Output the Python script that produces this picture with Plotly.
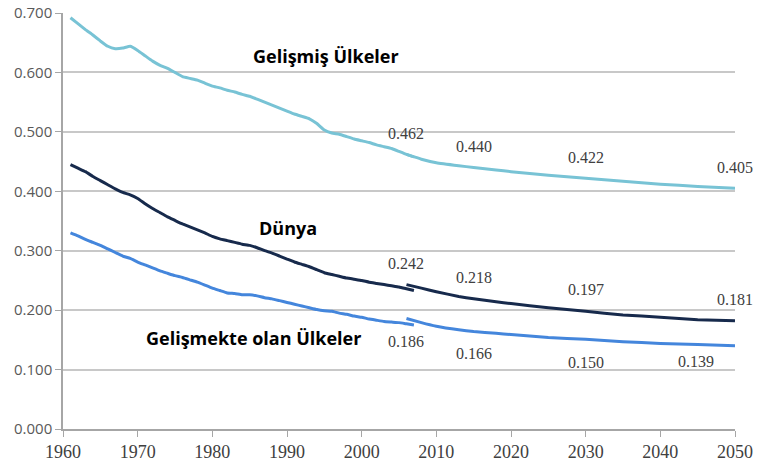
import plotly.graph_objects as go

# ---------------- data ----------------
hist_years = list(range(1961, 2008))
developed_hist = [0.692, 0.682, 0.672, 0.663, 0.653, 0.644, 0.640, 0.641, 0.644, 0.637,
                  0.628, 0.619, 0.612, 0.607, 0.600, 0.593, 0.590, 0.587, 0.582, 0.577,
                  0.574, 0.570, 0.567, 0.563, 0.560, 0.555, 0.550, 0.545, 0.540, 0.535,
                  0.530, 0.526, 0.522, 0.514, 0.503, 0.498, 0.496, 0.492, 0.488, 0.485,
                  0.482, 0.478, 0.475, 0.472, 0.467, 0.462, 0.458]
world_hist = [0.445, 0.439, 0.433, 0.425, 0.418, 0.411, 0.404, 0.398, 0.394, 0.388,
              0.379, 0.371, 0.364, 0.357, 0.351, 0.345, 0.340, 0.335, 0.330, 0.324,
              0.320, 0.317, 0.314, 0.311, 0.309, 0.305, 0.300, 0.296, 0.291, 0.286,
              0.281, 0.277, 0.273, 0.268, 0.263, 0.260, 0.257, 0.254, 0.252, 0.250,
              0.247, 0.245, 0.243, 0.241, 0.239, 0.236, 0.233]
developing_hist = [0.330, 0.325, 0.319, 0.314, 0.309, 0.303, 0.297, 0.291, 0.287, 0.281,
                   0.276, 0.271, 0.266, 0.262, 0.258, 0.255, 0.251, 0.247, 0.242, 0.237,
                   0.233, 0.229, 0.228, 0.226, 0.226, 0.224, 0.221, 0.219, 0.216, 0.213,
                   0.210, 0.207, 0.204, 0.201, 0.199, 0.198, 0.195, 0.193, 0.190, 0.188,
                   0.185, 0.183, 0.181, 0.180, 0.179, 0.177, 0.175]

proj_years = [2006, 2008, 2010, 2013, 2015, 2018, 2020, 2025, 2030, 2035, 2040, 2045, 2050]
developed_proj = [0.462, 0.454, 0.448, 0.443, 0.440, 0.436, 0.433, 0.427, 0.422, 0.417, 0.412, 0.408, 0.405]
world_proj = [0.243, 0.237, 0.231, 0.223, 0.219, 0.214, 0.211, 0.204, 0.198, 0.192, 0.188, 0.184, 0.182]
developing_proj = [0.186, 0.179, 0.173, 0.167, 0.164, 0.161, 0.159, 0.154, 0.151, 0.147, 0.144, 0.142, 0.140]

label_years = [2006, 2015, 2030, 2050]
developed_labels = [0.462, 0.440, 0.422, 0.405]
world_labels = [0.242, 0.218, 0.197, 0.181]
developing_labels = [0.186, 0.166, 0.150, 0.139]

series_names = ["Gelişmiş Ülkeler", "Dünya", "Gelişmekte olan Ülkeler"]
x_ticks = [1960, 1970, 1980, 1990, 2000, 2010, 2020, 2030, 2040, 2050]
y_ticks = [0.0, 0.1, 0.2, 0.3, 0.4, 0.5, 0.6, 0.7]

# ---------------- styles ----------------
C_DEV = "#78c3d5"
C_WORLD = "#172a4c"
C_DEVG = "#4486dc"
LW = 3
SERIF = "Liberation Serif, Times New Roman, serif"

fig = go.Figure()
for yrs, vals, col in [
    (hist_years, developed_hist, C_DEV), (proj_years, developed_proj, C_DEV),
    (hist_years, world_hist, C_WORLD), (proj_years, world_proj, C_WORLD),
    (hist_years, developing_hist, C_DEVG), (proj_years, developing_proj, C_DEVG),
]:
    fig.add_trace(go.Scatter(x=yrs, y=vals, mode="lines",
                             line=dict(color=col, width=LW, shape="spline", smoothing=0.3),
                             showlegend=False, hoverinfo="skip"))

num_font = dict(family=SERIF, size=16, color="#404040")
anns = []
for i, yr in enumerate(label_years):
    anns.append(dict(x=yr, y=developed_labels[i], text=f"{developed_labels[i]:.3f}",
                     xref="x", yref="y", showarrow=False, yshift=21, font=num_font))
    anns.append(dict(x=yr, y=world_labels[i], text=f"{world_labels[i]:.3f}",
                     xref="x", yref="y", showarrow=False, yshift=22, font=num_font))
    xs, ys = (0, -23) if i < 3 else (-39, -15)
    anns.append(dict(x=yr, y=developing_labels[i], text=f"{developing_labels[i]:.3f}",
                     xref="x", yref="y", showarrow=False, xshift=xs, yshift=ys, font=num_font))

name_font = dict(family="Open Sans", size=18, color="#000000")
for name, (nx, ny) in zip(series_names, [(1995.2, 0.627), (1990.1, 0.339), (1985.5, 0.153)]):
    anns.append(dict(x=nx, y=ny, text=f"<b>{name}</b>", xref="x", yref="y",
                     showarrow=False, font=name_font))

fig.update_layout(
    width=765, height=465, autosize=False,
    margin=dict(l=63, r=30, t=13, b=36, pad=0),
    paper_bgcolor="white", plot_bgcolor="white",
    annotations=anns,
    xaxis=dict(range=[1960, 2050], tickvals=x_ticks, showgrid=False, automargin=False,
               showline=True, linecolor="#a6a6a6", linewidth=1.5,
               ticks="outside", ticklen=6, tickcolor="#a6a6a6",
               tickfont=dict(family=SERIF, size=18, color="#404040"),
               zeroline=False),
    yaxis=dict(range=[0, 0.7], tickvals=y_ticks, tickformat=".3f", automargin=False,
               showgrid=True, gridcolor="#c8c8c8", gridwidth=1.5,
               showline=True, linecolor="#a6a6a6", linewidth=1.5,
               ticks="outside", ticklen=6, tickcolor="#a6a6a6",
               tickfont=dict(family="Open Sans", size=15, color="#595959"),
               zeroline=False),
)

fig.write_html("out.html", config={"displayModeBar": False},
               post_script="document.body.style.margin='0';")
